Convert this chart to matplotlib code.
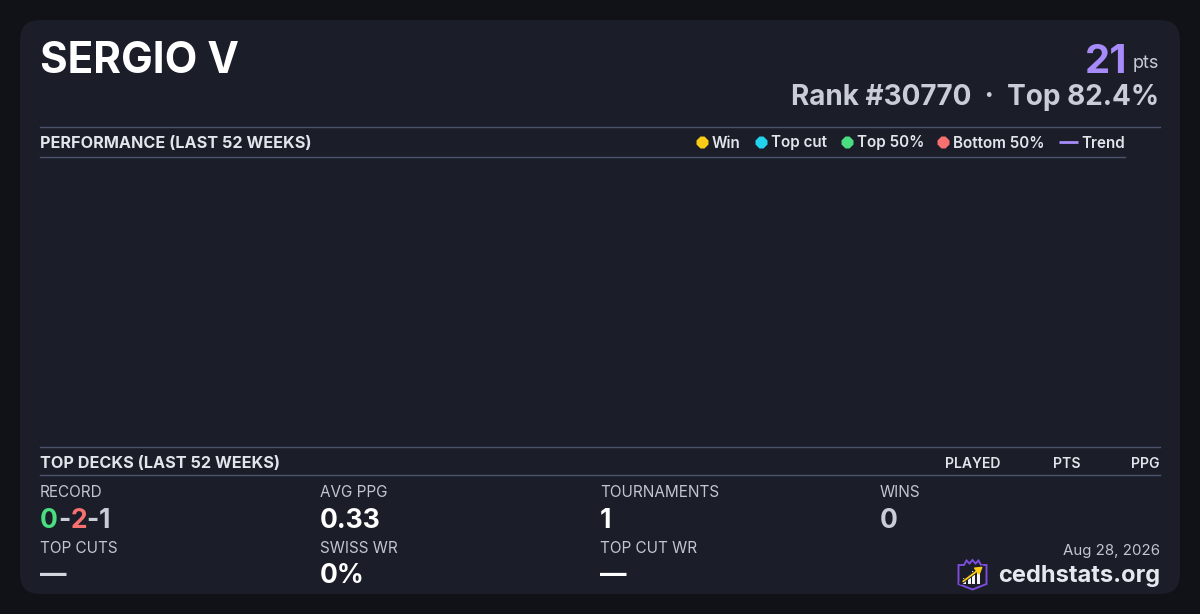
import matplotlib
matplotlib.use("Agg")
import matplotlib.pyplot as plt
from matplotlib.patches import FancyBboxPatch, Polygon, Rectangle, FancyArrowPatch

# ---------------- data ----------------
player_name = "SERGIO V"
total_points = 21
rank = 30770
top_percent = 82.4
perf_title = "PERFORMANCE (LAST 52 WEEKS)"
legend_labels = ["Win", "Top cut", "Top 50%", "Bottom 50%", "Trend"]
legend_colors = ["#facc15", "#22d3ee", "#4ade80", "#f87171", "#a78bfa"]
perf_weeks = []      # no tournament results plotted in the window
perf_scores = []
decks_title = "TOP DECKS (LAST 52 WEEKS)"
deck_columns = ["PLAYED", "PTS", "PPG"]
record = [0, 2, 1]   # wins - losses - draws
stat_labels_row1 = ["RECORD", "AVG PPG", "TOURNAMENTS", "WINS"]
stat_values_row1 = [None, "0.33", "1", "0"]
stat_labels_row2 = ["TOP CUTS", "SWISS WR", "TOP CUT WR"]
stat_values_row2 = ["\u2014", "0%", "\u2014"]
date_text = "Aug 28, 2026"
site_name = "cedhstats.org"

# ---------------- style ----------------
plt.rcParams['font.family'] = ['Inter', 'DejaVu Sans']
W, H, DPI = 1200, 614, 100
BG = "#111217"
CARD = "#1b1d28"
RULE = "#4a546b"
HEAD = "#e3e5ec"
LABEL = "#c2c6d0"
WHITE = "#ffffff"
GRAY = "#c9cdd8"

fig = plt.figure(figsize=(W / DPI, H / DPI), dpi=DPI, facecolor=BG)
ax = fig.add_axes([0, 0, 1, 1])
ax.set_xlim(0, W)
ax.set_ylim(H, 0)
ax.axis("off")
ax.set_facecolor(BG)

def px(p):
    return p * 72.0 / DPI

def T(x, y, s, size, color, weight="normal", ha="left", va="baseline"):
    return ax.text(x, y, s, fontsize=px(size), color=color, fontweight=weight,
                   ha=ha, va=va, zorder=5)

# card
ax.add_patch(FancyBboxPatch((20, 20), 1160, 574, boxstyle="round,pad=0,rounding_size=20",
                            facecolor=CARD, edgecolor="none", zorder=1))

renderer = fig.canvas.get_renderer()

def left_of(t):
    return t.get_window_extent(renderer).x0

def right_of(t):
    return t.get_window_extent(renderer).x1

# header
T(40, 73, player_name, 42.3, WHITE, "bold")
tp = T(1159, 68, "pts", 18, GRAY, "normal", ha="right")
T(left_of(tp) - 5, 73, str(total_points), 40, legend_colors[4], "bold", ha="right")
T(1159, 105, f"Rank #{rank}  \u00b7  Top {top_percent}%", 27.9, GRAY, "bold", ha="right")

# performance section
ax.plot([40, 1160], [126.5, 126.5], color=RULE, lw=1, zorder=3)
ax.plot([40, 1125], [156.5, 156.5], color=RULE, lw=1, zorder=3)
T(40, 147.5, perf_title, 16.2, HEAD, "bold")

legend_x = [702, 761, 847, 943, 1059]
for i, (lab, col) in enumerate(zip(legend_labels, legend_colors)):
    x = legend_x[i]
    if lab == "Trend":
        ax.plot([x, x + 19], [142, 142], color=col, lw=2, solid_capstyle="butt", zorder=4)
        T(x + 22, 147.5, lab, 15.2, HEAD, "semibold")
    else:
        ax.plot([x], [142], marker="8", ms=px(13), color=col, mec="none", zorder=4)
        T(x + 10, 147.5, lab, 15.2, HEAD, "semibold")

# empty performance plot area
pax = fig.add_axes([40 / W, 1 - 446 / H, 1085 / W, 290 / H])
pax.set_facecolor("none")
pax.scatter(perf_weeks, perf_scores)
pax.set_xlim(0, 52)
pax.set_ylim(0, 1)
pax.axis("off")

# top decks section
ax.plot([40, 1160], [446.5, 446.5], color=RULE, lw=1, zorder=3)
ax.plot([40, 1160], [474.5, 474.5], color=RULE, lw=1, zorder=3)
T(40, 468, decks_title, 16.2, HEAD, "bold")
col_right = [1000, 1080, 1160]
for lab, xr in zip(deck_columns, col_right):
    T(xr, 467.5, lab, 14, HEAD, "semibold", ha="right")

# stats grid
col_x = [40, 320, 600, 880]
for x, lab in zip(col_x, stat_labels_row1):
    T(x, 497, lab, 15.3, LABEL)
for x, lab in zip(col_x, stat_labels_row2):
    T(x, 553, lab, 15.3, LABEL)

# record with coloured parts
parts = [(str(record[0]), "#4ade80"), ("-", GRAY), (str(record[1]), "#f87171"),
         ("-", GRAY), (str(record[2]), GRAY)]
xc = 40
for s, c in parts:
    t = T(xc, 528, s, 26.5, c, "bold")
    xc = right_of(t)

val_colors_row1 = [None, WHITE, WHITE, GRAY]
for x, v, c in zip(col_x, stat_values_row1, val_colors_row1):
    if v is not None:
        T(x, 528, v, 26.5, c, "bold")
val_colors_row2 = ["#d3d6df", WHITE, WHITE]
for x, v, c in zip(col_x, stat_values_row2, val_colors_row2):
    T(x, 583, v, 26.5, c, "bold")

# footer
T(1160, 555.5, date_text, 15, LABEL, ha="right")
ts = T(1160, 582, site_name, 23.7, "#e6e8ef", "bold", ha="right")

# logo (shield with bars and arrow)
shield = [(958.5, 565), (964, 565), (966.5, 560.5), (969.5, 563.5), (972.5, 560),
          (975.5, 563.5), (978.5, 560.5), (981, 565), (986.5, 565), (986.5, 584),
          (972.5, 589.5), (958.5, 584)]
ax.add_patch(Polygon(shield, closed=True, facecolor="none", edgecolor="#7c4ddb",
                     lw=1.4, zorder=4, joinstyle="miter"))
bars = [(963, 578), (967.5, 575), (972, 571), (976.5, 568)]
for bx, by in bars:
    ax.add_patch(Rectangle((bx, by), 3, 584 - by, facecolor="#f3f4f8",
                           edgecolor="none", zorder=5))
ax.plot([961, 982], [583, 567], color="#1b1d28", lw=2.6, zorder=6, solid_capstyle="round")
ax.add_patch(FancyArrowPatch((961, 583), (985, 565), arrowstyle="-|>,head_length=4,head_width=2.5",
                             color="#facc15", lw=1.3, zorder=7, mutation_scale=1))

fig.savefig("out.png", dpi=DPI, facecolor=BG)
